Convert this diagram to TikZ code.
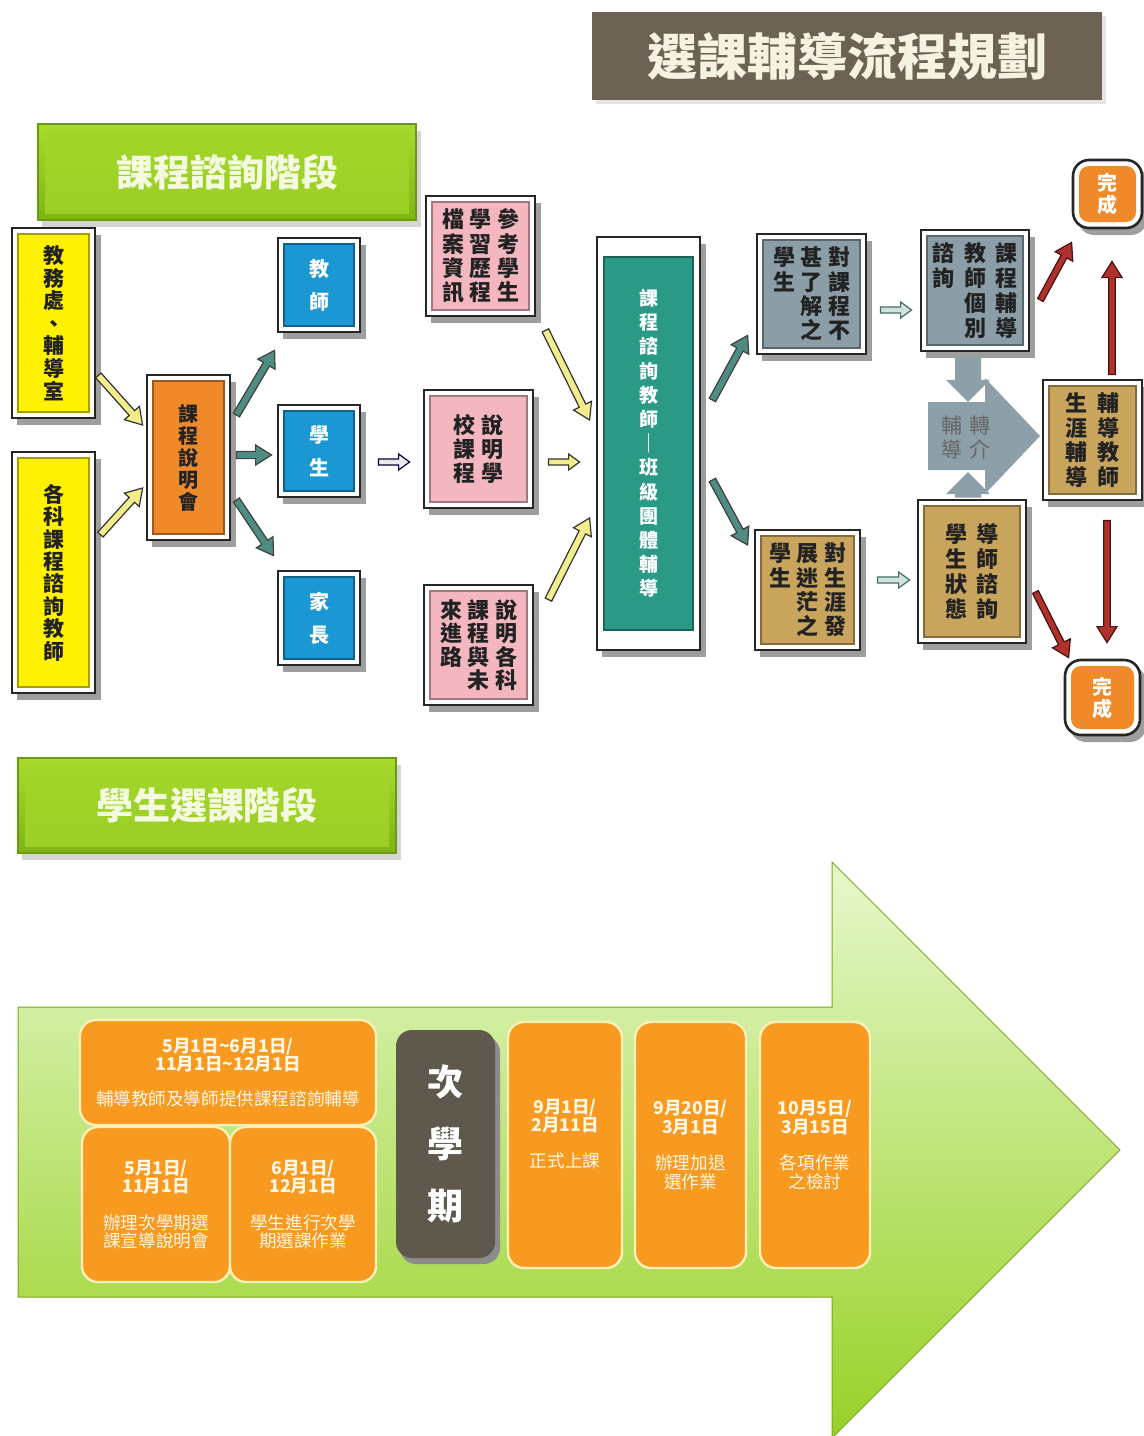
\documentclass[tikz,border=0pt]{standalone}
\usepackage{fontspec}
\setmainfont{Noto Sans CJK TC}
\usetikzlibrary{calc}
\definecolor{titlebg}{HTML}{6B6253}
\definecolor{titletx}{HTML}{F6F2E2}
\definecolor{grnA}{HTML}{A9DB2C}
\definecolor{grnB}{HTML}{7DB417}
\definecolor{grnD}{HTML}{6A9A14}
\definecolor{bantx}{HTML}{F4FADF}
\definecolor{cYel}{HTML}{FFF200}
\definecolor{cOrg}{HTML}{F0892A}
\definecolor{cBlu}{HTML}{1B98D4}
\definecolor{cPnk}{HTML}{F5B7BF}
\definecolor{cTea}{HTML}{2A9A87}
\definecolor{cGry}{HTML}{8B9DA6}
\definecolor{cTan}{HTML}{C9A45C}
\definecolor{arrY}{HTML}{F2EC8C}
\definecolor{arrT}{HTML}{4F8C82}
\definecolor{arrR}{HTML}{B0302C}
\definecolor{zjc}{HTML}{8DA0AA}
\definecolor{obg}{HTML}{F89A20}
\definecolor{obd}{HTML}{FCEFB8}
\definecolor{semc}{HTML}{5E584D}
\definecolor{bigA}{HTML}{E6F8CC}
\definecolor{bigB}{HTML}{98D126}
\definecolor{txd}{HTML}{222222}
\definecolor{otx}{HTML}{FFF7E4}

\makeatletter
\newcommand{\vstk}[2][1.15em]{\vtop{\baselineskip=#1\lineskiplimit=-100pt\lineskip=0pt\vst@a#2\relax}}
\def\vst@a#1#2\relax{\hbox to 1.05em{\hss#1\hss}\ifx\relax#2\relax\else\expandafter\vst@a\fi#2\relax}
\makeatother

\tikzset{
  outerbox/.style={fill=white, draw=black!85, line width=1.3pt},
  shd/.style={fill=black!38},
  yarr/.style={fill=arrY, draw=black!80, line width=0.6pt, line join=miter},
  tarr/.style={fill=arrT, draw=black!75, line width=0.6pt, line join=miter},
  rarr/.style={fill=arrR, draw=black!60!arrR, line width=0.6pt, line join=miter},
  harr/.style={fill=black!8, draw=black!75!blue, line width=0.6pt, line join=miter},
  htarr/.style={fill=arrT!25, draw=arrT!80!black, line width=0.6pt, line join=miter},
  garr/.style={fill=zjc, draw=none},
  obox/.style={fill=obg, draw=obd, line width=1.2pt, rounded corners=8pt, inner sep=0pt,
    text=otx, align=center, font=\fontsize{8.8}{9.2}\selectfont},
}

% framed box: name, x1,y1,x2,y2, fill, text colour, content
\newcommand{\fbx}[8]{%
  \fill[shd] (#2+5,#3+7) rectangle (#4+6,#5+7);
  \draw[outerbox] (#2,#3) rectangle (#4,#5);
  \draw[fill=#6, draw=#6!65!black, line width=0.7pt] (#2+6,#3+6) rectangle (#4-6,#5-6);
  \node[inner sep=0pt, minimum width={(#4-#2)*0.5pt}, minimum height={(#5-#3)*0.5pt}, text=#7, font=\bfseries] (#1) at ({(#2+#4)/2},{(#3+#5)/2}) {#8};
}

% fat arrow: style, from, to, shaft half width, head half width, head length
\newcommand{\fatarrow}[6]{%
  \coordinate (faS) at (#2);
  \coordinate (faE) at (#3);
  \coordinate (faH) at ($(faE)!#6!(faS)$);
  \draw[#1] ($(faS)!#4!90:(faE)$) -- ($(faH)!#4!90:(faE)$) -- ($(faH)!#5!90:(faE)$) -- (faE)
     -- ($(faH)!#5!-90:(faE)$) -- ($(faH)!#4!-90:(faE)$) -- ($(faS)!#4!-90:(faE)$) -- cycle;
}

\newcommand{\banner}[6]{%
  \fill[black!30, opacity=0.55] (#2+4,#3+7) rectangle (#4+5,#5+7);
  \shadedraw[top color=grnA, bottom color=grnB, draw=grnD, line width=0.8pt] (#2,#3) rectangle (#4,#5);
  \shade[top color=grnA!85!grnB, bottom color=grnA!70!grnB] (#2+7,#3+7) rectangle (#4-7,#5-7);
  \node[text=bantx, font=\fontsize{18.5}{22}\selectfont\bfseries] (#1) at ({(#2+#4)/2},{(#3+#5)/2}) {#6};
}

\begin{document}
\begin{tikzpicture}[x=0.5pt,y=-0.5pt]
\useasboundingbox (0,0) rectangle (1144,1436);
\fill[white] (0,0) rectangle (1144,1436);

% ---------- title ----------
\fill[black!10] (596,16) rectangle (1106,104);
\node[fill=titlebg, minimum width=255pt, minimum height=44pt, inner sep=0pt, text=titletx,
  font=\fontsize{25}{30}\selectfont\bfseries] (title) at (847,56) {選課輔導流程規劃};

% ---------- banners ----------
\banner{ban1}{38}{124}{416}{220}{課程諮詢階段}
\banner{ban2}{18}{758}{396}{853}{學生選課階段}

% ---------- upper flow boxes ----------
\fbx{y1}{12}{228}{95}{418}{cYel}{txd}{\fontsize{10.5}{11}\selectfont\vstk[11.3pt]{教務處、輔導室}}
\fbx{y2}{12}{452}{95}{693}{cYel}{txd}{\fontsize{10.5}{11}\selectfont\vstk[11.2pt]{各科課程諮詢教師}}
\fbx{org}{147}{375}{230}{540}{cOrg}{txd}{\fontsize{10}{11}\selectfont\vstk[11pt]{課程說明會}}

\fbx{tch}{278}{238}{360}{332}{cBlu}{white}{\fontsize{10}{11}\selectfont\vstk[16.5pt]{教師}}
\fbx{stu}{278}{405}{360}{497}{cBlu}{white}{\fontsize{10}{11}\selectfont\vstk[16.5pt]{學生}}
\fbx{par}{278}{571}{360}{665}{cBlu}{white}{\fontsize{10}{11}\selectfont\vstk[16.5pt]{家長}}

\fbx{pk1}{426}{196}{535}{316}{cPnk}{txd}{\fontsize{11}{12}\selectfont\vstk[12.1pt]{檔案資訊}\hspace{2.2pt}\vstk[12.1pt]{學習歷程}\hspace{2.2pt}\vstk[12.1pt]{參考學生}}
\fbx{pk2}{424}{390}{533}{508}{cPnk}{txd}{\fontsize{11}{12}\selectfont\vstk[12.1pt]{校課程}\hspace{2.2pt}\vstk[12.1pt]{說明學}}
\fbx{pk3}{424}{585}{533}{705}{cPnk}{txd}{\fontsize{11}{12}\selectfont\vstk[11.8pt]{來進路}\hspace{2.2pt}\vstk[11.8pt]{課程與未}\hspace{2.2pt}\vstk[11.8pt]{說明各科}}

% teal tall box (own inset)
\fill[shd] (602,244) rectangle (706,657);
\draw[outerbox] (597,237) rectangle (700,650);
\draw[fill=cTea, draw=cTea!65!black, line width=0.7pt] (604,257) rectangle (693,630);
\node[inner sep=0pt, minimum width=51.5pt, minimum height=206.5pt, text=white,
  font=\fontsize{9.5}{10}\selectfont\bfseries] (teal) at (648.5,443.5) {\vstk[12.1pt]{課程諮詢教師｜班級團體輔導}};

\fbx{g1}{757}{234}{866}{354}{cGry}{txd}{\fontsize{11}{12}\selectfont\vstk[12.2pt]{學生}\hspace{2.2pt}\vstk[12.2pt]{甚了解之}\hspace{2.2pt}\vstk[12.2pt]{對課程不}}
\fbx{t1}{755}{530}{860}{650}{cTan}{txd}{\fontsize{11}{12}\selectfont\vstk[12.2pt]{學生}\hspace{2.2pt}\vstk[12.2pt]{展迷茫之}\hspace{2.2pt}\vstk[12.2pt]{對生涯發}}
\fbx{g2}{921}{230}{1029}{351}{cGry}{txd}{\fontsize{11}{12}\selectfont\vstk[12.4pt]{諮詢}\hspace{4pt}\vstk[12.4pt]{教師個別}\hspace{4pt}\vstk[12.4pt]{課程輔導}}
\fbx{t2}{918}{500}{1026}{643}{cTan}{txd}{\fontsize{11}{12}\selectfont\vstk[12.6pt]{學生狀態}\hspace{4pt}\vstk[12.6pt]{導師諮詢}}
\fbx{t3}{1043}{380}{1142}{500}{cTan}{txd}{\fontsize{11}{12}\selectfont\vstk[12.4pt]{生涯輔導}\hspace{4pt}\vstk[12.4pt]{輔導教師}}

% done boxes
\fill[shd, rounded corners=8pt] (1078,166) rectangle (1147,235);
\draw[outerbox, rounded corners=8pt] (1073,160) rectangle (1142,228);
\fill[cOrg, rounded corners=5pt] (1079,166) rectangle (1136,222);
\node[inner sep=0pt, minimum width=34.5pt, minimum height=34pt, text=white,
  font=\fontsize{10}{11}\selectfont\bfseries] (done1) at (1107.5,194) {\vstk[11pt]{完成}};
\fill[shd, rounded corners=8pt] (1070,666) rectangle (1146,742);
\draw[outerbox, rounded corners=8pt] (1065,660) rectangle (1140,735);
\fill[cOrg, rounded corners=5pt] (1071,666) rectangle (1134,729);
\node[inner sep=0pt, minimum width=37.5pt, minimum height=37.5pt, text=white,
  font=\fontsize{10}{11}\selectfont\bfseries] (done2) at (1102.5,697.5) {\vstk[11pt]{完成}};

% referral block arrow
\fill[zjc] (928,402) -- (985,402) -- (985,378) -- (1040,436) -- (985,494) -- (985,470) -- (928,470) -- cycle;
\node[inner sep=0pt, text=black!60, font=\fontsize{10.5}{11}\selectfont] (zj) at (966,438)
  {\vstk[12pt]{輔導}\hspace{3pt}\vstk[12pt]{轉介}};
\fatarrow{garr}{$(g2.south)+(-7,6)$}{$(zj.north)+(2,-14)$}{6.5pt}{11pt}{11pt}
\fatarrow{garr}{$(t2.north)+(-4,-2)$}{$(zj.south)+(2,12)$}{6.5pt}{11pt}{11pt}

% ---------- connectors ----------
\fatarrow{yarr}{$(y1.south east)+(3,-43)$}{$(org.west)+(-4,-32.5)$}{1.8pt}{5pt}{8pt}
\fatarrow{yarr}{$(y2.north east)+(5,83)$}{$(org.west)+(-4,30.5)$}{1.8pt}{5pt}{8pt}
\fatarrow{tarr}{$(org.east)+(6,-42.5)$}{$(tch.south west)+(-3,18)$}{1.8pt}{5pt}{8pt}
\fatarrow{tarr}{$(org.east)+(6,-2.5)$}{$(stu.west)+(-6,4)$}{1.8pt}{5pt}{8pt}
\fatarrow{tarr}{$(org.east)+(6,42.5)$}{$(par.north west)+(-4,-15)$}{1.8pt}{5pt}{8pt}
\fatarrow{harr}{$(stu.east)+(18,11)$}{$(pk2.west)+(-14,13)$}{1.5pt}{4pt}{5.5pt}
\fatarrow{yarr}{$(pk1.south east)+(10,14)$}{$(teal.west)+(-7,-23.5)$}{1.8pt}{5pt}{8pt}
\fatarrow{yarr}{$(pk2.east)+(15,13)$}{$(teal.west)+(-17,18.5)$}{1.5pt}{4pt}{5.5pt}
\fatarrow{yarr}{$(pk3.north east)+(15,15)$}{$(teal.west)+(-7,74.5)$}{1.8pt}{5pt}{8pt}
\fatarrow{tarr}{$(teal.east)+(12,-43.5)$}{$(g1.south west)+(-9,-19)$}{1.8pt}{5pt}{8pt}
\fatarrow{tarr}{$(teal.east)+(12,36.5)$}{$(t1.west)+(-7,-45)$}{1.8pt}{5pt}{8pt}
\fatarrow{htarr}{$(g1.east)+(14,16)$}{$(g2.west)+(-9,19.5)$}{1.5pt}{4pt}{5.5pt}
\fatarrow{htarr}{$(t1.east)+(17,-10)$}{$(t2.west)+(-8,8.5)$}{1.5pt}{4pt}{5.5pt}
\fatarrow{rarr}{$(g2.east)+(11,9.5)$}{$(done1.south west)+(-1,14)$}{1.6pt}{5pt}{8pt}
\fatarrow{rarr}{$(t3.north)+(19.5,-5)$}{$(done1.south)+(4.5,33)$}{1.6pt}{5pt}{8pt}
\fatarrow{rarr}{$(t3.south)+(14.5,20)$}{$(done2.north)+(4.5,-17)$}{1.6pt}{5pt}{8pt}
\fatarrow{rarr}{$(t2.east)+(9,20.5)$}{$(done2.north west)+(4,-2)$}{1.6pt}{5pt}{8pt}

% ---------- lower timeline ----------
\shadedraw[top color=bigA, bottom color=bigB, draw=bigB!80!black, line width=0.5pt]
  (18,1007) -- (832,1007) -- (832,862) -- (1120,1150) -- (832,1438) -- (832,1297) -- (18,1297) -- cycle;

\node[obox, minimum width=148pt, minimum height=52.5pt] (ob1) at (228,1072.5)
  {\textbf{5月1日\textasciitilde6月1日/}\\\textbf{11月1日\textasciitilde12月1日}\\[8pt]輔導教師及導師提供課程諮詢輔導};
\node[obox, minimum width=74pt, minimum height=77.5pt] (ob2) at (156,1204.5)
  {\textbf{5月1日/}\\\textbf{11月1日}\\[9pt]辦理次學期選\\課宣導說明會};
\node[obox, minimum width=73pt, minimum height=77.5pt] (ob3) at (303,1204.5)
  {\textbf{6月1日/}\\\textbf{12月1日}\\[9pt]學生進行次學\\期選課作業};
\fill[black!45, rounded corners=8pt] (400,1036) rectangle (500,1264);
\node[fill=semc, rounded corners=8pt, minimum width=49.5pt, minimum height=114pt, inner sep=0pt,
  text=white, font=\fontsize{18}{20}\selectfont\bfseries] (sem) at (445.5,1144) {\vstk[31pt]{次學期}};
\node[obox, minimum width=57pt, minimum height=123pt] (ob4) at (565,1145) {};
\node[align=center, text=otx, inner sep=0pt, font=\fontsize{8.8}{9.2}\selectfont] at ($(ob4.center)+(0,-11)$)
  {\textbf{9月1日/}\\\textbf{2月11日}\\[9pt]正式上課};
\node[obox, minimum width=55.5pt, minimum height=123pt] (ob5) at (690.5,1145)
  {\textbf{9月20日/}\\\textbf{3月1日}\\[9pt]辦理加退\\選作業};
\node[obox, minimum width=55pt, minimum height=123pt] (ob6) at (815,1145)
  {\textbf{10月5日/}\\\textbf{3月15日}\\[9pt]各項作業\\之檢討};
\end{tikzpicture}
\end{document}
